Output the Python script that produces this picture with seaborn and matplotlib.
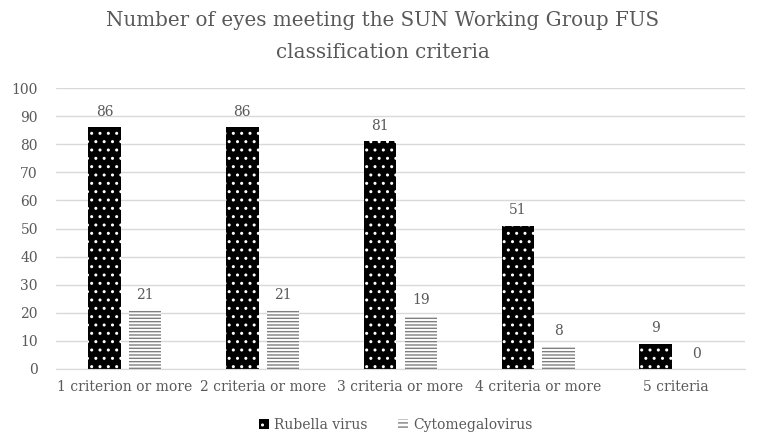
import pandas as pd
import matplotlib.pyplot as plt
import seaborn as sns
from matplotlib.patches import Patch

categorias = ["1 criterion or more", "2 criteria or more", "3 criteria or more",
              "4 criteria or more", "5 criteria"]
rubella = [86, 86, 81, 51, 9]
cmv = [21, 21, 19, 8, 0]
series = ["Rubella virus", "Cytomegalovirus"]

df = pd.DataFrame({
    "criterio": categorias * 2,
    "olhos": rubella + cmv,
    "virus": [series[0]] * len(categorias) + [series[1]] * len(categorias),
})

sns.set_style("white")
plt.rcParams["font.family"] = ["DejaVu Serif"]
plt.rcParams["hatch.linewidth"] = 1.0

cinza = "#595959"
fig = plt.figure(figsize=(7.57, 4.34), dpi=100)
ax = fig.add_axes([0.074, 0.15, 0.91, 0.647])

sns.barplot(data=df, x="criterio", y="olhos", hue="virus", ax=ax,
            palette=["black", "white"], width=0.59, gap=0.2,
            linewidth=0, legend=False)

for i, bar in enumerate(ax.patches[:10]):
    if i < 5:
        bar.set_facecolor("black")
        bar.set_edgecolor("white")
        bar.set_hatch("..")
    else:
        bar.set_facecolor("white")
        bar.set_edgecolor("#7f7f7f")
        bar.set_hatch("-----")
    bar.set_linewidth(0)

for cont in ax.containers:
    ax.bar_label(cont, padding=6, fontsize=10, color=cinza)

ax.set_ylim(0, 100)
ax.set_yticks(range(0, 101, 10))
ax.yaxis.grid(True, color="#d9d9d9", linewidth=1)
ax.set_axisbelow(True)
for s in ["top", "right", "left"]:
    ax.spines[s].set_visible(False)
ax.spines["bottom"].set_color("#d9d9d9")
ax.tick_params(axis="both", colors=cinza, labelsize=10, length=0)
ax.tick_params(axis="y", pad=13)
ax.tick_params(axis="x", pad=8)
ax.set_xlabel("")
ax.set_ylabel("")

fig.text(0.506, 1 - 20 / 434, "Number of eyes meeting the SUN Working Group FUS",
         ha="center", va="center", fontsize=14.3, color=cinza)
fig.text(0.506, 1 - 52 / 434, "classification criteria",
         ha="center", va="center", fontsize=14.3, color=cinza)

handles = [Patch(facecolor="black", edgecolor="white", hatch="..", linewidth=0),
           Patch(facecolor="white", edgecolor="#7f7f7f", hatch="----", linewidth=0)]
leg = fig.legend(handles, series, loc="center", bbox_to_anchor=(0.523, 1 - 425 / 434),
                 ncol=2, frameon=False, fontsize=10, handlelength=0.7,
                 handleheight=0.7, columnspacing=2.2, handletextpad=0.4)
for t in leg.get_texts():
    t.set_color(cinza)

fig.savefig("out.png", dpi=100)
